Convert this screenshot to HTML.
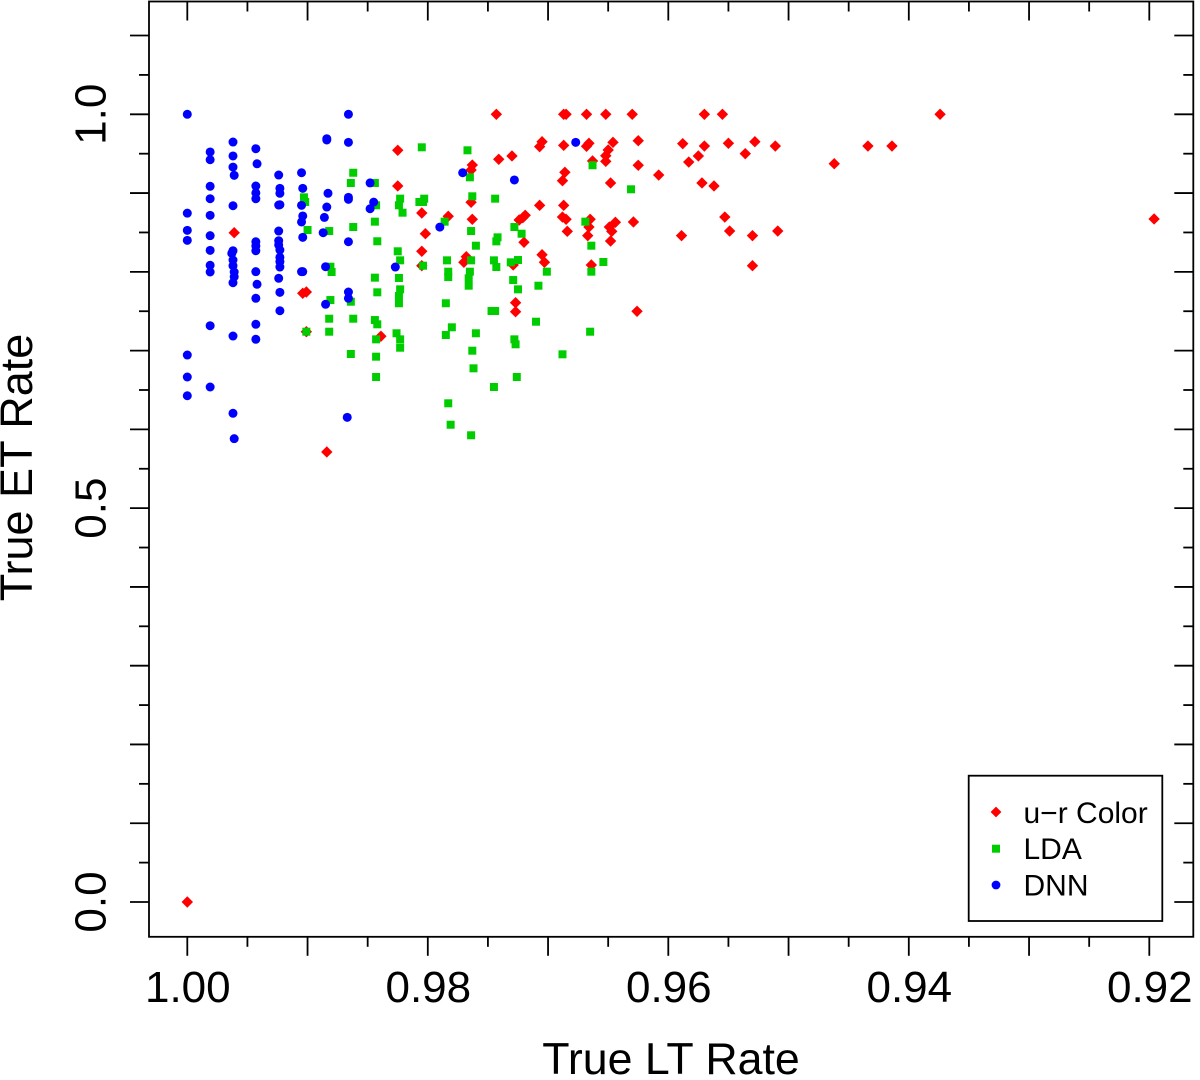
<!DOCTYPE html>
<html lang="en">
<head>
<meta charset="utf-8">
<title>True ET Rate vs True LT Rate</title>
<style>
html,body{margin:0;padding:0;background:#fff;}
body{width:1200px;height:1080px;overflow:hidden;}
svg{display:block;}
text{font-family:"Liberation Sans",Arial,sans-serif;fill:#000;}
</style>
</head>
<body>
<svg id="chart" xmlns="http://www.w3.org/2000/svg" width="1200" height="1080" viewBox="0 0 1200 1080">
  <rect x="0" y="0" width="1200" height="1080" fill="#fff"/>
  <g id="ticks"></g>
  <g id="labels"></g>
  <g id="points"></g>
  <rect x="149" y="1.5" width="1044.3" height="935.3" fill="none" stroke="#000" stroke-width="1.8"/>
  <text x="671" y="1074" font-size="44.7" text-anchor="middle">True LT Rate</text>
  <text transform="translate(32,467.5) rotate(-90)" font-size="45" text-anchor="middle">True ET Rate</text>
  <g>
    <rect x="968.7" y="775.7" width="193.6" height="145.3" fill="#fff" stroke="#000" stroke-width="1.8"/>
    <polygon points="996,806.6 1001.4,812 996,817.4 990.6,812" fill="#ff0000"/>
    <rect x="992" y="844.7" width="8" height="8" fill="#00cd00"/>
    <circle cx="996" cy="885" r="4.4" fill="#0000ff"/>
    <text x="1023.5" y="823" font-size="30">u−r Color</text>
    <text x="1023.5" y="859" font-size="30">LDA</text>
    <text x="1023.5" y="895.5" font-size="30">DNN</text>
  </g>
</svg>
<script>
const xTickLabels = ["1.00", "0.98", "0.96", "0.94", "0.92"];
const yTickLabels = ["0.0", "0.5", "1.0"];
const xTickMajor = [1, 0.99, 0.98, 0.97, 0.96, 0.95, 0.94, 0.93, 0.92];
const xTickMinor = [0.995, 0.985, 0.975, 0.965, 0.955, 0.945, 0.935, 0.925];
const yTickMajor = [0, 0.1, 0.2, 0.3, 0.4, 0.5, 0.6, 0.7, 0.8, 0.9, 1, 1.1];
const yTickMinor = [0.05, 0.15, 0.25, 0.35, 0.45, 0.55, 0.65, 0.75, 0.85, 0.95, 1.05];

const colorLtRate = [
  .9961,.9904,.9901,.9901,.9884,.9743,.9825,.9741,.9730,.9763,
  .9764,.9825,.9764,.9707,.9805,.9783,.9763,.9719,.9721,.9724,
  .9802,.9720,.9805,.9768,.9770,.9805,.9729,.9727,.9727,.9839,
  .9687,.9685,.9668,.9652,.9630,.9570,.9555,.9705,.9707,.9687,
  .9666,.9668,.9646,.9625,.9650,.9652,.9652,.9663,.9625,.9608,
  .9588,.9570,.9575,.9583,.9550,.9572,.9562,.9686,.9688,.9648,
  .9687,.9688,.9685,.9684,.9665,.9666,.9667,.9644,.9649,.9647,
  .9648,.9629,.9589,.9553,.9549,.9705,.9703,.9664,.9626,.9528,
  .9536,.9511,.9374,.9434,.9414,.9462,.9530,.9509,.9530,.9196,
  1
];
const colorEtRate = [
  .8497,.7728,.7744,.7240,.5713,1,.9543,.9429,.9471,.9356,
  .9293,.9090,.8883,.8844,.8747,.8705,.8667,.8718,.8687,.8658,
  .8484,.8375,.8261,.8192,.8121,.8078,.8087,.7608,.7494,.7182,
  1,1,1,1,1,1,1,.9652,.9589,.9606,
  .9632,.9594,.9644,.9665,.9547,.9474,.9403,.9407,.9353,.9229,
  .9627,.9597,.9471,.9394,.9632,.9128,.9090,.9264,.9157,.9128,
  .8844,.8696,.8667,.8514,.8667,.8569,.8459,.8629,.8569,.8514,
  .8391,.8633,.8459,.8696,.8518,.8217,.8121,.8087,.7499,.9652,
  .9500,.9597,1,.9597,.9597,.9373,.8459,.8518,.8078,.8671,
  0
];

const ldaLtRate = [
  .9903,.9902,.9900,.9901,.9882,.9881,.9880,.9881,.9882,.9882,
  .9862,.9864,.9862,.9864,.9862,.9864,.9844,.9843,.9844,.9842,
  .9844,.9842,.9844,.9842,.9843,.9843,.9843,.9823,.9824,.9821,
  .9825,.9823,.9824,.9823,.9824,.9824,.9826,.9823,.9823,.9805,
  .9803,.9807,.9804,.9804,.9786,.9784,.9783,.9783,.9785,.9780,
  .9785,.9783,.9781,.9767,.9765,.9763,.9764,.9760,.9764,.9765,
  .9766,.9766,.9760,.9763,.9762,.9764,.9744,.9742,.9743,.9745,
  .9743,.9747,.9744,.9745,.9728,.9722,.9731,.9725,.9729,.9725,
  .9728,.9727,.9726,.9708,.9710,.9701,.9688,.9669,.9663,.9664,
  .9664,.9665,.9654,.9631
];
const ldaEtRate = [
  .8946,.8887,.8531,.7240,.8518,.8065,.7998,.7642,.7405,.7240,
  .9258,.9128,.8569,.7621,.7405,.6957,.9128,.8845,.8637,.8388,
  .7926,.7740,.7388,.7334,.7143,.6923,.6665,.8929,.8845,.8751,
  .8261,.8146,.7922,.7778,.7693,.7601,.7220,.7143,.7037,.9581,
  .8929,.8887,.8887,.8078,.8637,.8146,.8002,.7934,.7601,.7296,
  .7198,.6331,.6059,.9543,.9200,.8959,.8518,.8332,.8146,.8002,
  .7918,.7824,.7220,.6999,.6775,.5925,.8929,.8438,.8387,.8146,
  .8061,.7503,.7503,.6538,.8569,.8484,.8121,.8150,.7896,.7778,
  .7143,.7080,.6665,.7824,.7367,.8002,.6953,.8637,.9353,.8332,
  .8002,.7240,.8125,.9048
];

const dnnLtRate = [
  1,1,1,1,1,1,1,
  .9981,.9981,.9981,.9981,.9981,.9981,.9981,.9981,.9981,.9981,.9981,
  .9962,.9962,.9962,.9961,.9962,.9962,.9963,.9962,.9962,.9961,.9961,.9962,.9962,.9962,.9961,
  .9943,.9942,.9943,.9943,.9943,.9943,.9943,.9943,.9943,.9942,.9943,.9943,.9943,
  .9924,.9923,.9923,.9924,.9923,.9924,.9924,.9924,.9923,.9923,.9923,.9923,.9924,.9923,.9923,
  .9905,.9904,.9905,.9904,.9905,.9904,.9905,.9904,
  .9884,.9884,.9883,.9884,.9886,.9887,.9885,.9885,
  .9866,.9866,.9866,.9866,.9866,.9866,.9866,.9867,
  .9848,.9845,.9848,.9827,.9790,.9771,.9728,.9677
];
const dnnEtRate = [
  1,.8745,.8527,.8400,.6944,.6665,.6427,
  .9522,.9423,.9086,.8928,.8717,.8459,.8273,.8083,.7998,.7316,.6538,
  .9648,.9471,.9330,.9225,.8839,.8268,.8235,.8150,.8078,.7998,.7938,.7862,.7185,.6204,.5882,
  .9563,.9372,.9089,.9001,.8928,.8382,.8328,.8268,.8002,.7842,.7664,.7334,.7144,
  .9229,.9060,.8997,.8848,.8852,.8518,.8395,.8341,.8277,.8184,.8129,.8061,.7918,.7740,.7506,
  .9258,.9060,.8844,.8709,.8633,.8438,.8002,.8002,
  .9690,.9674,.8997,.8823,.8691,.8497,.8065,.7588,
  1,.9644,.8946,.8920,.8382,.7744,.7664,.6153,
  .9129,.8885,.8801,.8061,.8568,.9258,.9166,.9644
];

const NS = 'http://www.w3.org/2000/svg';
const xScale = function (v) { return 187.3 + (1 - v) * 12025; };
const yScale = function (v) { return 902 - v * 787.7; };
const ticksGroup = document.getElementById('ticks');
const labelsGroup = document.getElementById('labels');
const pointsGroup = document.getElementById('points');
const MAJOR = 19;
const MINOR = 10;

function addLine(x1, y1, x2, y2) {
  const el = document.createElementNS(NS, 'line');
  
  
  el.setAttribute('x1', x1);
  el.setAttribute('y1', y1);
  el.setAttribute('x2', x2);
  el.setAttribute('y2', y2);
  el.setAttribute('stroke', '#000');
  el.setAttribute('stroke-width', '1.8');
  ticksGroup.appendChild(el);
}
function xTicks(values, len) {
  values.forEach(function (v) {
    const x = xScale(v);
    addLine(x, 936.8, x, 936.8 + len);
    addLine(x, 1.5, x, 1.5 + len);
  });
}
function yTicks(values, len) {
  values.forEach(function (v) {
    const y = yScale(v);
    addLine(149, y, 149 - len, y);
    addLine(1193.3, y, 1193.3 - len, y);
  });
}
xTicks(xTickMajor, MAJOR);
xTicks(xTickMinor, MINOR);
yTicks(yTickMajor, MAJOR);
yTicks(yTickMinor, MINOR);

xTickLabels.forEach(function (t) {
  const el = document.createElementNS(NS, 'text');
  
  
  el.setAttribute('x', xScale(parseFloat(t)) + 0.5);
  el.setAttribute('y', 1002);
  el.setAttribute('font-size', '44');
  el.setAttribute('text-anchor', 'middle');
  el.textContent = t;
  labelsGroup.appendChild(el);
});
yTickLabels.forEach(function (t) {
  const el = document.createElementNS(NS, 'text');
  
  
  el.setAttribute('transform', 'translate(105.5,' + yScale(parseFloat(t)) + ') rotate(-90)');
  el.setAttribute('font-size', '44');
  el.setAttribute('text-anchor', 'middle');
  el.textContent = t;
  labelsGroup.appendChild(el);
});

colorLtRate.forEach(function (v, i) {
  const x = xScale(v);
  const y = yScale(colorEtRate[i]);
  const el = document.createElementNS(NS, 'polygon');
  
  
  el.setAttribute('points', x + ',' + (y - 5.7) + ' ' + (x + 5.7) + ',' + y + ' ' + x + ',' + (y + 5.7) + ' ' + (x - 5.7) + ',' + y);
  el.setAttribute('fill', '#ff0000');
  pointsGroup.appendChild(el);
});
ldaLtRate.forEach(function (v, i) {
  const el = document.createElementNS(NS, 'rect');
  
  
  el.setAttribute('x', xScale(v) - 4);
  el.setAttribute('y', yScale(ldaEtRate[i]) - 4);
  el.setAttribute('width', '8');
  el.setAttribute('height', '8');
  el.setAttribute('fill', '#00cd00');
  pointsGroup.appendChild(el);
});
dnnLtRate.forEach(function (v, i) {
  const el = document.createElementNS(NS, 'circle');
  
  
  el.setAttribute('cx', xScale(v));
  el.setAttribute('cy', yScale(dnnEtRate[i]));
  el.setAttribute('r', '4.5');
  el.setAttribute('fill', '#0000ff');
  pointsGroup.appendChild(el);
});
</script>
</body>
</html>
